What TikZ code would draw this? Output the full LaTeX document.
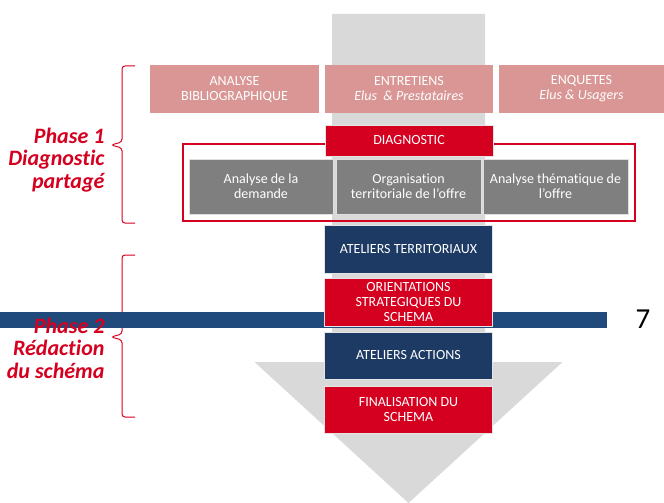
\documentclass[tikz,border=0pt]{standalone}
\usepackage{fontspec}
\setmainfont{Carlito}[Ligatures={NoCommon,NoContextual}]
\definecolor{rosebox}{HTML}{D99694}
\definecolor{rougebox}{HTML}{D5001F}
\definecolor{bleubox}{HTML}{1C3A64}
\definecolor{bande}{HTML}{204A7B}
\definecolor{grisbox}{HTML}{7F7F7F}
\definecolor{fleche}{HTML}{D9D9D9}
\tikzset{
  etape/.style={text=white, align=center, inner sep=0pt, minimum width=168pt,
    minimum height=48pt, font=\fontsize{14}{15}\selectfont},
  amont/.style={etape, fill=rosebox},
  rouge/.style={etape, fill=rougebox, draw=white!80!gray, line width=0.6pt},
  bleu/.style={etape, fill=bleubox, draw=white!80!gray, line width=0.6pt},
  analyse/.style={etape, fill=grisbox, draw=white!75!gray, line width=1pt,
    minimum width=144pt, minimum height=55pt},
  cadre/.style={draw=rougebox, line width=2pt, inner sep=0pt,
    minimum width=452pt, minimum height=77pt},
  phase/.style={text=rougebox, align=right, anchor=east,
    font=\fontsize{22}{22.5}\selectfont\bfseries\itshape},
  accolade/.style={draw=rougebox, line width=1pt, rounded corners=3pt},
}
\begin{document}
\begin{tikzpicture}[x=1pt,y=-1pt]
\useasboundingbox (0,0) rectangle (664,503);
% grande fleche grise
\fill[fleche] (332,14) -- (485,14) -- (485,362) -- (562.5,362) -- (408.5,503)
  -- (254.5,362) -- (332,362) -- cycle;
% accolades
\draw[accolade] (135,66) -- (122,66) -- (122,142) -- (111,145) -- (122,148) -- (122,223) -- (135,223);
\draw[accolade] (135,255) -- (122,255) -- (122,334) -- (111,337) -- (122,340) -- (122,417) -- (135,417);
% bande bleue
\fill[bande] (0,312) rectangle (607,328);
\node[font=\fontsize{29}{30}\selectfont] (page) at (643,319) {7};
% recueil
\node[amont, minimum width=169pt] (biblio) at (234.5,89) {ANALYSE\\BIBLIOGRAPHIQUE};
\node[amont] (entretiens) at (409,89) {ENTRETIENS\\\textit{Elus~ \& Prestataires}};
\node[amont, minimum width=165pt] (enquetes) at (581.5,89) {ENQUETES\\\textit{Elus \& Usagers}};
% diagnostic
\node[cadre] (cadre) at (409,182.5) {};
\node[rouge, minimum height=31pt] (diag) at (409,140.5) {DIAGNOSTIC};
\node[analyse] (demande) at (261,186.5) {Analyse de la\\demande};
\node[analyse, minimum width=145pt] (orga) at (408.5,186.5) {Organisation\\territoriale de l’offre};
\node[analyse, minimum width=145pt] (thema) at (555.5,186.5) {Analyse thématique de\\l’offre};
% redaction
\node[bleu] (atelT) at (408.5,249.5) {ATELIERS TERRITORIAUX};
\node[rouge] (orient) at (408.5,302.5) {ORIENTATIONS\\STRATEGIQUES DU\\SCHEMA};
\node[bleu, minimum height=47pt] (atelA) at (408.5,355.5) {ATELIERS ACTIONS};
\node[rouge, minimum height=47pt] (final) at (408.5,409.5) {FINALISATION DU\\SCHEMA};
% phases
\node[phase] (phase1) at (108,160) {Phase 1\\Diagnostic\\partagé};
\node[phase] (phase2) at (108,348) {Phase 2\\Rédaction\\du schéma};
\end{tikzpicture}
\end{document}
